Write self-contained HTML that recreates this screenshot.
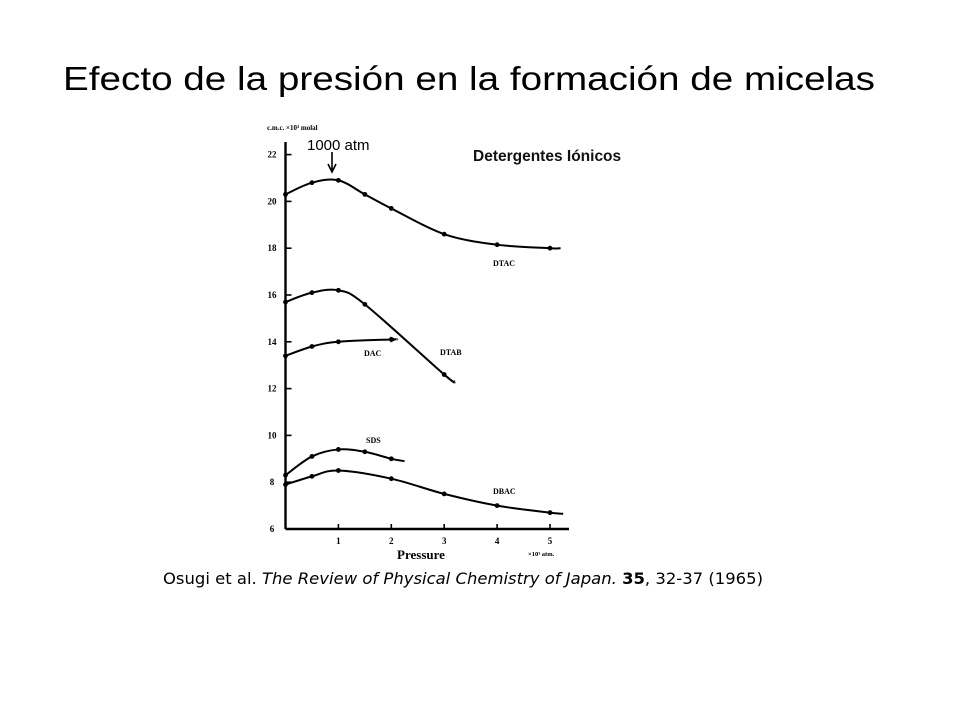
<!DOCTYPE html>
<html><head><meta charset="utf-8">
<style>
html,body{margin:0;padding:0;background:#fff;}
svg{display:block;}
</style></head>
<body>
<svg width="960" height="720" viewBox="0 0 960 720">
<text x="63" y="90" font-family="Liberation Sans, sans-serif" font-size="33" fill="#000" textLength="812" lengthAdjust="spacingAndGlyphs">Efecto de la presión en la formación de micelas</text>
<g id="chart"></g>
<text x="163" y="584" font-family="DejaVu Sans, sans-serif" font-size="16" fill="#000" textLength="600" lengthAdjust="spacingAndGlyphs">Osugi et al. <tspan font-style="italic">The Review of Physical Chemistry of Japan.</tspan> <tspan font-weight="bold">35</tspan>, 32-37 (1965)</text>
</svg>
<script>
const xTicks = [1, 2, 3, 4, 5];
const yTicks = [6, 8, 10, 12, 14, 16, 18, 20, 22];
const dtacX = [0, 0.5, 1, 1.5, 2, 3, 4, 5, 5.2];
const dtacY = [20.3, 20.8, 20.9, 20.3, 19.7, 18.6, 18.15, 18.0, 18.0];
const dtabX = [0, 0.5, 1, 1.5, 3, 3.2];
const dtabY = [15.7, 16.1, 16.2, 15.6, 12.6, 12.3];
const dacX = [0, 0.5, 1, 2, 2.1];
const dacY = [13.4, 13.8, 14.0, 14.1, 14.1];
const sdsX = [0, 0.5, 1, 1.5, 2, 2.25];
const sdsY = [8.3, 9.1, 9.4, 9.3, 9.0, 8.9];
const dbacX = [0, 0.5, 1, 2, 3, 4, 5, 5.25];
const dbacY = [7.9, 8.25, 8.5, 8.15, 7.5, 7.0, 6.7, 6.65];

const NS = "http://www.w3.org/2000/svg";
const g = document.getElementById('chart');
const X0 = 285.5, XS = 52.9, Y0 = 529, YS = 23.4;
function sx(v){ return X0 + v * XS; }
function sy(v){ return Y0 - (v - 6) * YS; }
function mk(tag, attrs){ const e = document.createElementNS(NS, tag); for (const k in attrs) e.setAttribute(k, attrs[k]); g.appendChild(e); return e; }
function txt(x, y, s, size, extra){ const e = mk('text', Object.assign({x:x, y:y, 'font-family':'Liberation Serif, serif', 'font-size':size, 'font-weight':'bold', fill:'#000'}, extra||{})); e.textContent = s; return e; }

const ya = mk('line', {x1:X0, y1:142, x2:X0, y2:Y0, stroke:'#000', 'stroke-width':2.4});


const xa = mk('line', {x1:X0, y1:Y0, x2:569, y2:Y0, stroke:'#000', 'stroke-width':2.4});



yTicks.forEach(v => {
  const t = mk('line', {x1:X0, y1:sy(v), x2:X0+6, y2:sy(v), stroke:'#000', 'stroke-width':1.6});
  
  
  const l = txt(272, sy(v)+3, String(v), 9, {'text-anchor':'middle'});
  
  
});
xTicks.forEach(v => {
  const t = mk('line', {x1:sx(v), y1:Y0, x2:sx(v), y2:Y0-5, stroke:'#000', 'stroke-width':1.6});
  
  
  const l = txt(sx(v), Y0+15, String(v), 9, {'text-anchor':'middle'});
  
  
});

const yt = txt(267, 130, 'c.m.c. ×10³ molal', 7);


const xt = txt(421, 559, 'Pressure', 13, {'text-anchor':'middle'});


const xu = txt(528, 556, '×10³ atm.', 6.5);



const ct = mk('text', {x:473, y:161, 'font-family':'Liberation Sans, sans-serif', 'font-size':15.5, 'font-weight':'bold', fill:'#111'});
ct.textContent = 'Detergentes Iónicos';


const at = mk('text', {x:307, y:150, 'font-family':'Liberation Sans, sans-serif', 'font-size':15, fill:'#000'});
at.textContent = '1000 atm';


const ar = mk('path', {d:'M332 152 L332 170 M328 164 L332 172 L336 164', stroke:'#000', 'stroke-width':1.6, fill:'none'});



function smooth(xs, ys){
  const p = xs.map((x,i)=>[sx(x), sy(ys[i])]);
  let d = 'M'+p[0][0]+' '+p[0][1];
  for (let i=0;i<p.length-1;i++){
    const p0=p[Math.max(0,i-1)], p1=p[i], p2=p[i+1], p3=p[Math.min(p.length-1,i+2)];
    const c1=[p1[0]+(p2[0]-p0[0])/6, p1[1]+(p2[1]-p0[1])/6];
    const c2=[p2[0]-(p3[0]-p1[0])/6, p2[1]-(p3[1]-p1[1])/6];
    d += ' C'+c1[0]+' '+c1[1]+' '+c2[0]+' '+c2[1]+' '+p2[0]+' '+p2[1];
  }
  return d;
}
function series(name, xs, ys){
  const path = mk('path', {d:smooth(xs, ys), stroke:'#000', 'stroke-width':2, fill:'none'});
  
  
  for (let i=0;i<xs.length-1;i++){
    const c = mk('circle', {cx:sx(xs[i]), cy:sy(ys[i]), r:2.4, fill:'#000'});
    
    
  }
}
series('dtac', dtacX, dtacY);
series('dtab', dtabX, dtabY);
series('dac', dacX, dacY);
series('sds', sdsX, sdsY);
series('dbac', dbacX, dbacY);
const dh = mk('path', {d:'M'+(sx(dacX[dacX.length-1])-6)+' '+(sy(dacY[dacY.length-1])-3)+' L'+sx(dacX[dacX.length-1])+' '+sy(dacY[dacY.length-1])+' L'+(sx(dacX[dacX.length-1])-6)+' '+(sy(dacY[dacY.length-1])+3)+'Z', fill:'#000'});



const labels = [['DTAC',493,266],['DTAB',440,355],['DAC',364,356],['SDS',366,443],['DBAC',493,494]];
labels.forEach(l => {
  const e = txt(l[1], l[2], l[0], 8);
  
  
});
</script>
</body></html>
